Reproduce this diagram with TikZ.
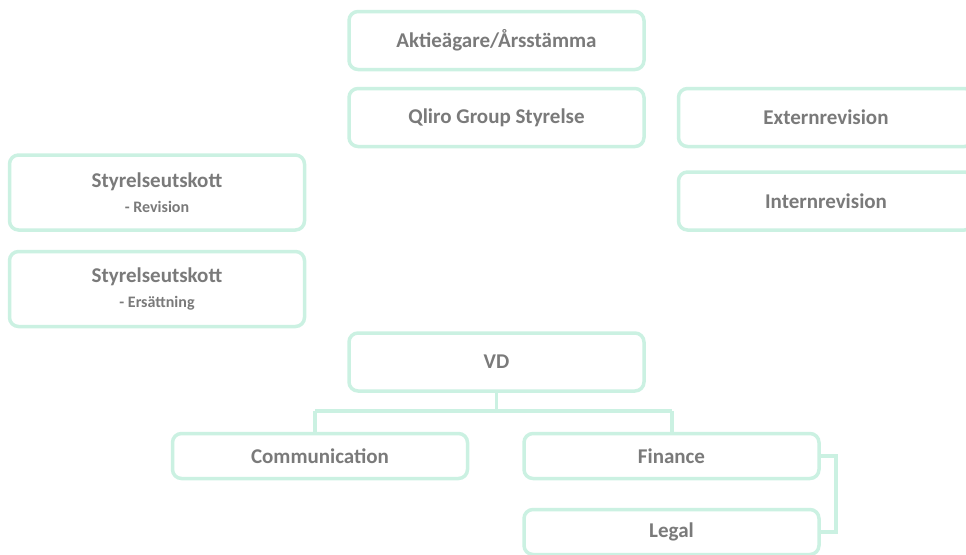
\documentclass[tikz,border=0pt]{standalone}
\usepackage{fontspec}
\setmainfont{Carlito}
\begin{document}
\begin{tikzpicture}[x=1pt,y=-1pt,
  orgbox/.style={draw=mint, line width=3.5pt, rounded corners=9pt, fill=white,
    minimum width=295pt, text=txtgrey, font=\bfseries\fontsize{21}{24}\selectfont, align=center, inner sep=0pt},
  tallbox/.style={orgbox, minimum height=58pt},
  subbox/.style={orgbox, minimum height=75pt},
  lowbox/.style={orgbox, minimum height=45pt},
  link/.style={draw=mint, line width=3.5pt}]
\definecolor{mint}{HTML}{CBF1E2}
\definecolor{txtgrey}{HTML}{7A7A7A}
\useasboundingbox (0,0) rectangle (966,554);
\node[tallbox] (agm) at (496.5,40.5) {Aktieägare/Årsstämma};
\node[tallbox] (board) at (496.5,117.5) {Qliro Group Styrelse};
\node[tallbox] (ext) at (826,117.5) {Externrevision};
\node[tallbox] (int) at (826,201) {Internrevision};
\node[subbox] (rev) at (157,192.5) {Styrelseutskott\\[1pt]{\fontsize{16}{18}\selectfont - Revision}};
\node[subbox] (ers) at (157,289) {Styrelseutskott\\[1pt]{\fontsize{16}{18}\selectfont - Ersättning}};
\node[tallbox] (vd) at (496.5,362) {VD};
\node[lowbox] (comm) at (320,456) {Communication};
\node[lowbox] (fin) at (671.5,456) {Finance};
\node[lowbox] (legal) at (671.5,532) {Legal};
\coordinate (split) at (496.5,411);
\coordinate (cl) at (315,411);
\coordinate (cr) at (672,411);
\coordinate (fr) at (836,456);
\coordinate (lr) at (836,532);
\draw[link] (vd.south) -- (split);
\draw[link] (cl) -- (cr);
\draw[link] (cl) -- (cl |- comm.north);
\draw[link] (cr) -- (cr |- fin.north);
\draw[link] (fin.east) -- (fr) -- (lr) -- (legal.east);
\end{tikzpicture}
\end{document}
